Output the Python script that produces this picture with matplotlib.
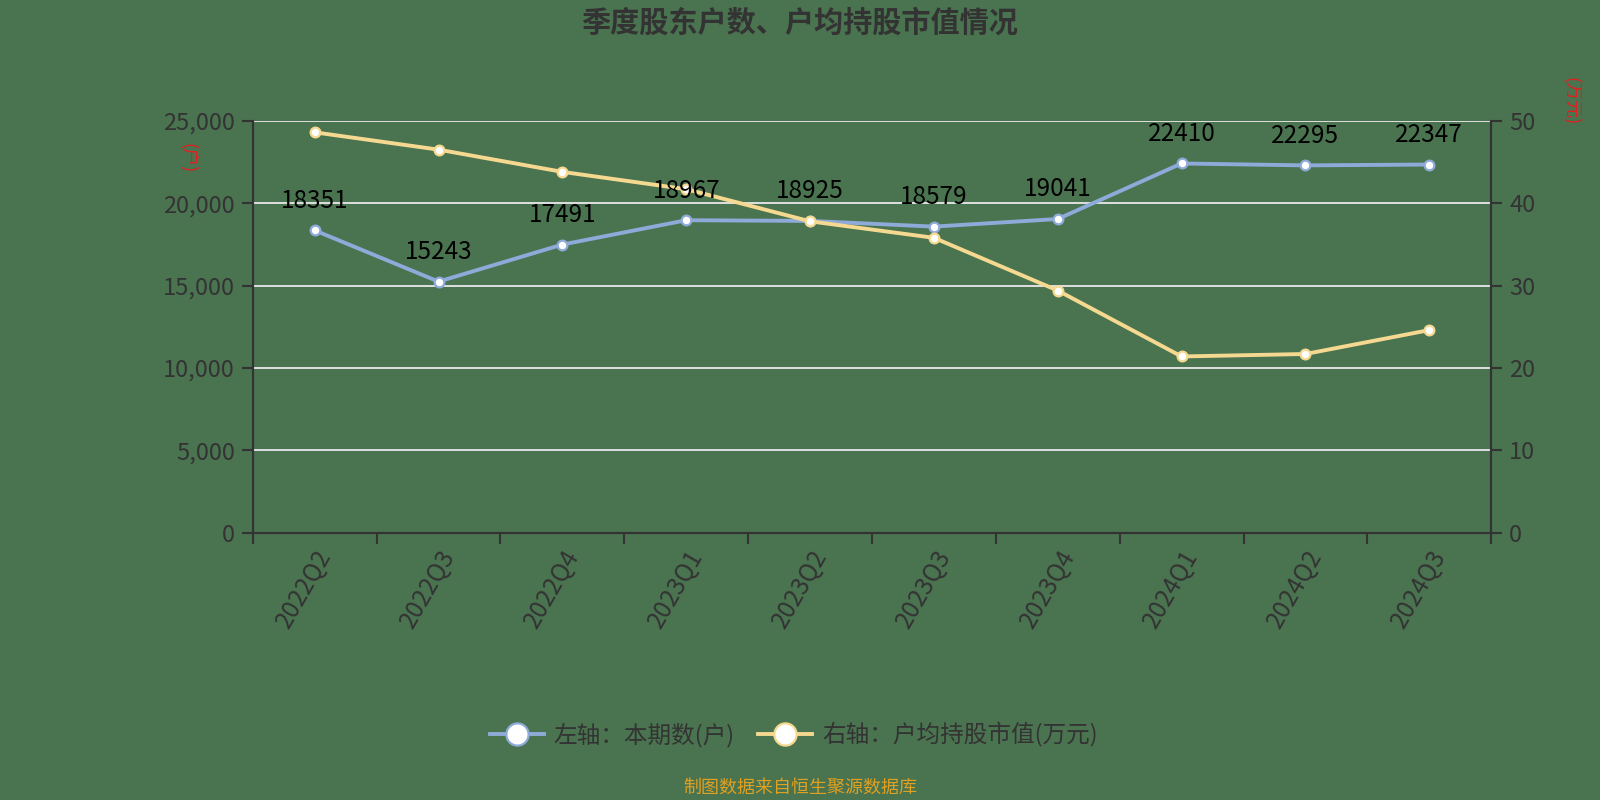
import matplotlib
matplotlib.use("Agg")
import matplotlib.pyplot as plt
from matplotlib.lines import Line2D

plt.rcParams['font.family'] = ['Noto Sans CJK SC', 'DejaVu Sans']

categories = ["2022Q2", "2022Q3", "2022Q4", "2023Q1", "2023Q2",
              "2023Q3", "2023Q4", "2024Q1", "2024Q2", "2024Q3"]
holders = [18351, 15243, 17491, 18967, 18925, 18579, 19041, 22410, 22295, 22347]
avg_value = [48.6, 46.5, 43.8, 41.7, 37.8, 35.8, 29.4, 21.4, 21.7, 24.6]
left_ticks = [0, 5000, 10000, 15000, 20000, 25000]
right_ticks = [0, 10, 20, 30, 40, 50]

title = "季度股东户数、户均持股市值情况"
legend_left = "左轴：本期数(户)"
legend_right = "右轴：户均持股市值(万元)"
footer = "制图数据来自恒生聚源数据库"

bg = "#4a7350"
blue = "#8eaad8"
orange = "#f6d990"
text_c = "#333333"

fig = plt.figure(figsize=(16, 8), dpi=100, facecolor=bg)
ax = fig.add_axes([0.158, 0.334, 0.774, 0.515])
ax.set_facecolor(bg)
ax2 = ax.twinx()

x = list(range(len(categories)))
ax.plot(x, holders, color=blue, lw=2.8, marker='o', ms=7,
        mfc='white', mec=blue, mew=1.6, zorder=3)
ax2.plot(x, avg_value, color=orange, lw=2.8, marker='o', ms=7,
         mfc='white', mec=orange, mew=1.6, zorder=3)

ax.set_xlim(-0.5, len(categories) - 0.5)
ax.set_ylim(0, 25000)
ax2.set_ylim(0, 50)
ax.set_yticks(left_ticks)
ax.set_yticklabels([f"{v:,}" for v in left_ticks])
ax2.set_yticks(right_ticks)
ax2.set_yticklabels([str(v) for v in right_ticks])

for v in left_ticks[1:]:
    ax.axhline(v, color="#e0e0e0", lw=1.4, zorder=1)

# x ticks at category boundaries, labels at centers
ax.set_xticks([i - 0.5 for i in range(len(categories) + 1)])
ax.set_xticklabels([])
ax.set_xticks(x, minor=True)
ax.set_xticklabels(categories, minor=True, rotation=60, ha='right',
                   rotation_mode='anchor', fontsize=17.5, color=text_c,
                   fontweight='medium')
ax.tick_params(axis='x', which='minor', length=0, pad=9)
ax.tick_params(axis='x', which='major', length=8, width=1.5, color=text_c)
ax.tick_params(axis='y', length=8, width=1.5, color=text_c, labelsize=17,
               labelcolor=text_c, pad=5)
ax2.tick_params(axis='y', length=8, width=1.5, color=text_c, labelsize=17,
                labelcolor=text_c, pad=5)
for lbl in ax.get_yticklabels() + ax2.get_yticklabels():
    lbl.set_fontweight('medium')

for a in (ax, ax2):
    a.spines['top'].set_visible(False)
    for s in ('left', 'right', 'bottom'):
        a.spines[s].set_color(text_c)
        a.spines[s].set_linewidth(1.5)

for i, v in enumerate(holders):
    ax2.annotate(str(v), xy=(i, v), xycoords=ax.transData, xytext=(0, 12),
                 textcoords='offset points', ha='center', va='bottom',
                 fontsize=17.5, color='black', fontweight='medium', zorder=10)

# unit labels
fig.text(0.1175, 0.8025, "(户)", rotation=-90, color='#e02020', fontsize=13,
         ha='center', va='center')
fig.text(0.981, 0.874, "(万元)", rotation=-90, color='#e02020', fontsize=13,
         ha='center', va='center')

fig.text(0.5, 0.972, title, ha='center', va='center', fontsize=21,
         fontweight='bold', color=text_c)

handles = [
    Line2D([0], [0], color=blue, lw=2.8, marker='o', ms=16, mfc='white',
           mec=blue, mew=1.6),
    Line2D([0], [0], color=orange, lw=2.8, marker='o', ms=16, mfc='white',
           mec=orange, mew=1.6),
]
leg = fig.legend(handles, [legend_left, legend_right], loc='center',
                 bbox_to_anchor=(0.496, 0.081), ncol=2, frameon=False,
                 fontsize=17, labelcolor=text_c, handlelength=2.3,
                 columnspacing=1.0, handletextpad=0.4)
for t in leg.get_texts():
    t.set_fontweight('medium')

fig.text(0.5, 0.015, footer, ha='center', va='center', fontsize=13,
         color='#e0a020')

fig.savefig("out.png", dpi=100, facecolor=bg)
